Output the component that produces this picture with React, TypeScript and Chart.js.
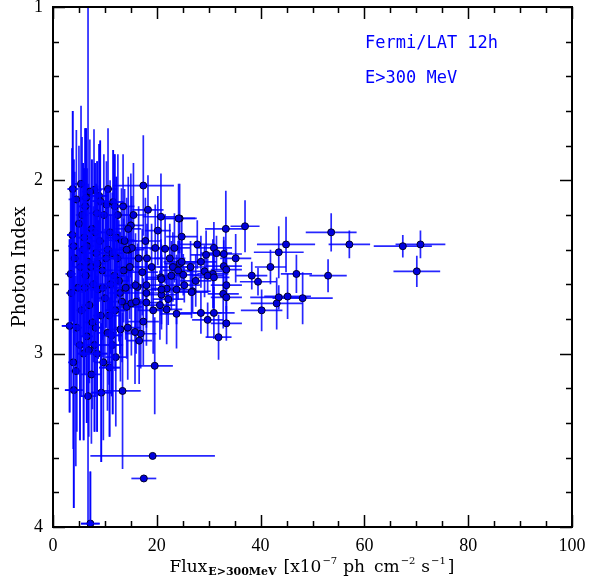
import { useEffect, useRef } from "react";
import { Chart, registerables } from "chart.js";
Chart.register(...registerables);

// Flux (x10^-7 ph cm^-2 s^-1), its error, photon index, its error
const flux = [
  53.6, 57.1, 67.4, 70.8, 70.1, 53.0, 48.1, 37.0, 44.9, 43.5,
  41.9, 38.3, 39.5, 46.9, 43.5, 43.1, 45.2, 40.2, 33.3, 27.8,
  24.8, 24.4, 31.0, 29.5, 32.9, 35.2, 31.5, 32.9, 33.4, 29.2,
  30.8, 29.8, 31.0, 33.4, 25.1, 25.3, 26.9, 32.8, 33.4, 28.5,
  31.0, 29.8, 33.4, 31.9, 24.4, 17.4, 18.3, 20.8, 24.2, 20.2,
  23.4, 21.6, 19.7, 18.1, 24.8, 23.1, 24.1, 20.8, 18.0, 21.9,
  23.8, 26.7, 20.9, 22.2, 18.0, 20.6, 21.9, 23.8, 17.4, 16.9,
  19.6, 19.2, 17.5, 14.6, 15.0, 13.2, 15.2, 16.3, 18.0, 14.2,
  16.6, 20.9, 20.9, 7.9, 8.9, 4.5, 11.6, 10.3, 8.5, 7.1,
  3.7, 3.4, 3.2, 3.9, 4.0, 7.4, 8.5, 6.75, 9.3, 13.4,
  7.2, 8.2, 11.3, 13.0, 15.8, 15.9, 15.1, 5.0, 5.8, 6.3,
  4.8, 5.5, 6.0, 6.8, 7.5, 7.8, 8.3, 9.0, 9.5, 10.0,
  10.6, 11.0, 11.8, 12.4, 12.9, 13.6, 14.2, 9.2, 6.5, 4.2,
  5.2, 7.0, 8.7, 10.8, 12.0, 13.8, 14.8, 9.8, 6.2, 12.5,
  11.5, 16.5, 17.2, 19.0, 15.5, 22.5, 26.5, 27.5, 28.5,
  3.5, 4.0, 4.6, 5.3, 5.6, 6.1, 6.6, 7.3, 7.6, 8.1,
  8.6, 9.1, 9.6, 10.2, 10.5, 11.1, 11.4, 12.2, 12.7, 13.3,
  14.0, 14.5, 4.4, 5.9, 6.9, 8.0, 9.7, 10.9, 12.1, 3.8,
  5.4, 6.4, 10.6, 11.9, 13.5, 14.4, 16.0, 17.8, 19.3, 22.8,
];
const fluxErr = [
  4.9, 4.0, 5.6, 4.8, 4.5, 3.6, 5.8, 2.8, 5.6, 4.8,
  3.0, 3.0, 3.5, 3.0, 5.5, 5.0, 4.5, 4.0, 4.0, 3.5,
  3.0, 3.0, 3.5, 3.0, 3.5, 3.0, 3.0, 3.5, 3.0, 3.5,
  3.0, 3.0, 3.0, 3.0, 3.0, 3.0, 3.5, 3.0, 3.0, 4.0,
  4.0, 3.0, 3.0, 2.5, 3.0, 5.9, 3.0, 3.5, 3.5, 2.5,
  3.0, 3.0, 2.5, 3.0, 3.5, 3.0, 3.0, 3.0, 3.5, 3.0,
  3.0, 3.0, 3.0, 3.0, 3.0, 3.0, 3.0, 3.0, 3.0, 3.0,
  3.5, 12.0, 2.4, 3.0, 2.5, 2.5, 2.5, 2.5, 3.0, 3.0,
  2.5, 3.0, 2.5, 1.5, 1.5, 1.5, 2.0, 2.0, 1.5, 1.5,
  1.0, 1.0, 1.5, 1.0, 1.7, 2.0, 2.0, 1.5, 2.0, 3.5,
  1.8, 1.5, 2.0, 2.0, 2.0, 2.0, 2.0, 1.0, 1.2, 1.2,
  1.0, 1.0, 1.5, 1.2, 1.5, 1.5, 1.5, 1.5, 2.0, 1.5,
  2.0, 2.0, 2.0, 2.0, 2.0, 2.0, 2.5, 1.5, 1.2, 1.0,
  1.0, 1.5, 1.5, 2.0, 2.0, 2.5, 2.5, 1.5, 1.2, 2.0,
  2.0, 2.5, 3.0, 3.0, 2.5, 3.0, 3.0, 3.0, 3.0,
  1.0, 1.0, 1.0, 1.2, 1.2, 1.2, 1.3, 1.5, 1.5, 1.5,
  1.5, 1.5, 1.8, 1.8, 1.8, 2.0, 2.0, 2.0, 2.0, 2.0,
  2.5, 2.5, 1.0, 1.2, 1.5, 1.5, 1.8, 2.0, 2.0, 1.0,
  1.2, 1.2, 1.8, 2.0, 2.2, 2.5, 2.5, 3.0, 3.0, 3.0,
];
const photonIndex = [
  2.30, 2.37, 2.38, 2.37, 2.525, 2.55, 2.68, 2.265, 2.37, 2.415,
  2.50, 2.55, 2.585, 2.54, 2.675, 2.71, 2.67, 2.75, 2.28, 2.37,
  2.325, 2.22, 2.39, 2.43, 2.425, 2.45, 2.42, 2.495, 2.515, 2.525,
  2.54, 2.55, 2.56, 2.605, 2.545, 2.605, 2.64, 2.655, 2.675, 2.765,
  2.765, 2.805, 2.825, 2.905, 2.48, 2.03, 2.17, 2.21, 2.22, 2.29,
  2.39, 2.395, 2.39, 2.45, 2.47, 2.50, 2.52, 2.56, 2.605, 2.625,
  2.63, 2.645, 2.66, 2.685, 2.705, 2.72, 2.745, 2.77, 2.815, 2.885,
  3.07, 3.59, 3.72, 2.40, 2.26, 2.345, 2.39, 2.615, 2.65, 2.73,
  2.925, 2.57, 2.63, 2.055, 2.09, 2.11, 2.125, 2.14, 2.19, 2.065,
  2.315, 2.54, 2.84, 3.05, 3.21, 3.12, 3.00, 3.245, 3.225, 3.215,
  3.98, 2.85, 2.895, 2.86, 2.875, 2.605, 2.71, 2.25, 2.40, 2.55,
  2.62, 2.75, 2.33, 2.47, 2.28, 2.60, 2.42, 2.35, 2.52, 2.68,
  2.40, 2.30, 2.55, 2.45, 2.65, 2.52, 2.40, 2.78, 2.90, 2.45,
  2.95, 2.72, 2.63, 2.78, 2.75, 2.35, 2.50, 2.20, 2.15, 2.20,
  2.95, 2.45, 2.53, 2.50, 2.20, 2.45, 2.50, 2.58, 2.47,
  2.65, 2.38, 2.85, 2.50, 2.20, 2.62, 2.38, 2.50, 2.82, 2.30,
  2.48, 2.12, 2.62, 2.45, 2.88, 2.60, 2.42, 2.33, 2.58, 2.70,
  2.62, 2.28, 3.10, 3.00, 2.98, 2.95, 3.05, 3.08, 3.02, 2.05,
  2.02, 2.10, 2.05, 2.15, 2.15, 2.85, 2.70, 2.35, 2.75, 2.55,
];
const indexErr = [
  0.11, 0.08, 0.065, 0.08, 0.09, 0.095, 0.15, 0.15, 0.16, 0.15,
  0.10, 0.08, 0.08, 0.11, 0.07, 0.15, 0.13, 0.12, 0.22, 0.14,
  0.12, 0.20, 0.15, 0.14, 0.10, 0.14, 0.10, 0.15, 0.12, 0.15,
  0.20, 0.10, 0.18, 0.15, 0.12, 0.10, 0.12, 0.20, 0.15, 0.12,
  0.15, 0.10, 0.10, 0.13, 0.13, 0.29, 0.20, 0.25, 0.20, 0.20,
  0.20, 0.20, 0.25, 0.20, 0.15, 0.20, 0.17, 0.22, 0.20, 0.15,
  0.20, 0.15, 0.20, 0.15, 0.25, 0.20, 0.20, 0.20, 0.25, 0.20,
  0.28, 0.0, 0.0, 0.25, 0.30, 0.30, 0.30, 0.25, 0.20, 0.30,
  0.25, 0.20, 0.20, 0.35, 0.30, 0.40, 0.30, 0.25, 0.30, 0.30,
  0.50, 0.50, 0.50, 0.50, 0.68, 0.40, 0.45, 2.50, 0.40, 0.45,
  0.30, 0.40, 0.35, 0.30, 0.30, 0.30, 0.30, 0.45, 0.50, 0.45,
  0.50, 0.50, 0.40, 0.45, 0.40, 0.45, 0.40, 0.35, 0.40, 0.40,
  0.35, 0.30, 0.35, 0.30, 0.35, 0.30, 0.30, 0.45, 0.50, 0.50,
  0.55, 0.45, 0.40, 0.40, 0.35, 0.30, 0.30, 0.35, 0.45, 0.35,
  0.40, 0.30, 0.25, 0.25, 0.30, 0.20, 0.15, 0.15, 0.15,
  0.55, 0.50, 0.60, 0.50, 0.45, 0.50, 0.45, 0.45, 0.50, 0.40,
  0.45, 0.35, 0.40, 0.40, 0.45, 0.40, 0.35, 0.35, 0.35, 0.35,
  0.30, 0.30, 0.55, 0.50, 0.50, 0.50, 0.45, 0.40, 0.40, 0.45,
  0.45, 0.40, 0.35, 0.30, 0.30, 0.30, 0.30, 0.25, 0.25, 0.20,
];

const xTickValues = [0, 20, 40, 60, 80, 100];
const yTickValues = [1, 2, 3, 4];
const annotationLines = ["Fermi/LAT 12h", "E>300 MeV"];
const denseLimit = 13;

function drawBars(chart: any, filter: (i: number) => boolean) {
  const { ctx, chartArea, scales } = chart;
  const x = scales.x, y = scales.y;
  ctx.save();
  ctx.beginPath();
  ctx.rect(chartArea.left, chartArea.top, chartArea.right - chartArea.left, chartArea.bottom - chartArea.top);
  ctx.clip();
  ctx.strokeStyle = "rgba(0,0,255,0.85)";
  ctx.lineWidth = 1.7;
  for (let i = 0; i < flux.length; i++) {
    if (!filter(i)) continue;
    const px = x.getPixelForValue(flux[i]);
    const py = y.getPixelForValue(photonIndex[i]);
    ctx.beginPath();
    ctx.moveTo(x.getPixelForValue(flux[i] - fluxErr[i]), py);
    ctx.lineTo(x.getPixelForValue(flux[i] + fluxErr[i]), py);
    if (indexErr[i] > 0) {
      ctx.moveTo(px, y.getPixelForValue(photonIndex[i] - indexErr[i]));
      ctx.lineTo(px, y.getPixelForValue(photonIndex[i] + indexErr[i]));
    }
    ctx.stroke();
  }
  ctx.restore();
}

const errorBars = {
  id: "errorBars",
  beforeDatasetsDraw(chart: any) {
    drawBars(chart, () => true);
  },
  afterDatasetsDraw(chart: any) {
    // in the crowded low-flux region the bars of later sources lie over the markers
    drawBars(chart, (i) => flux[i] < denseLimit && i % 2 === 0);
  },
};

function drawPieces(ctx: any, pieces: { t: string; f: string; dy: number; gap: number }[], cx: number, baseY: number) {
  let total = 0;
  const widths = pieces.map((p) => { ctx.font = p.f; const w = ctx.measureText(p.t).width; total += w + p.gap; return w; });
  let xPos = cx - total / 2;
  pieces.forEach((p, i) => {
    ctx.font = p.f;
    ctx.fillText(p.t, xPos, baseY + p.dy);
    xPos += widths[i] + p.gap;
  });
}

const frameAndText = {
  id: "frameAndText",
  afterDraw(chart: any) {
    const { ctx, chartArea, scales } = chart;
    const x = scales.x, y = scales.y;
    const { left, right, top, bottom } = chartArea;
    ctx.save();
    ctx.strokeStyle = "#000";
    ctx.lineWidth = 1.5;
    ctx.beginPath();
    for (let v = 0; v <= 100; v += 5) {
      const px = Math.round(x.getPixelForValue(v)) + 0.5;
      const len = v % 20 === 0 ? 12 : 6;
      ctx.moveTo(px, bottom); ctx.lineTo(px, bottom - len);
      ctx.moveTo(px, top); ctx.lineTo(px, top + len);
    }
    for (let k = 0; k <= 15; k++) {
      const v = 1 + k * 0.2;
      const py = Math.round(y.getPixelForValue(v)) + 0.5;
      const len = k % 5 === 0 ? 12 : 6;
      ctx.moveTo(left, py); ctx.lineTo(left + len, py);
      ctx.moveTo(right, py); ctx.lineTo(right - len, py);
    }
    ctx.stroke();
    ctx.lineWidth = 2;
    ctx.strokeRect(left, top, right - left, bottom - top);

    // x title
    ctx.fillStyle = "#000";
    ctx.textBaseline = "alphabetic";
    ctx.textAlign = "left";
    const main = "17px 'DejaVu Serif'";
    const sup = "10px 'DejaVu Serif'";
    drawPieces(ctx, [
      { t: "Flux", f: main, dy: 0, gap: 1 },
      { t: "E>300MeV", f: "bold 11px 'DejaVu Serif'", dy: 3, gap: 7 },
      { t: "[x10", f: main, dy: 0, gap: 1 },
      { t: "−7", f: sup, dy: -8, gap: 6 },
      { t: "ph", f: main, dy: 0, gap: 9 },
      { t: "cm", f: main, dy: 0, gap: 1 },
      { t: "−2", f: sup, dy: -8, gap: 6 },
      { t: "s", f: main, dy: 0, gap: 1 },
      { t: "−1", f: sup, dy: -8, gap: 2 },
      { t: "]", f: main, dy: 0, gap: 0 },
    ], 312, 572);

    // y title
    ctx.save();
    ctx.translate(25, 267);
    ctx.rotate(-Math.PI / 2);
    ctx.textAlign = "center";
    ctx.font = "18px 'DejaVu Serif'";
    ctx.fillText("Photon Index", 0, 0);
    ctx.restore();

    // annotation
    ctx.fillStyle = "#0000ff";
    ctx.font = "17px 'DejaVu Sans Mono'";
    ctx.fillText(annotationLines[0], 365, 48);
    ctx.fillText(annotationLines[1], 365, 83);
    ctx.restore();
  },
};

export default function App() {
  const ref = useRef<HTMLCanvasElement>(null);
  useEffect(() => {
    if (!ref.current) return;
    const points = flux.map((f, i) => ({ x: f, y: photonIndex[i] }));
    const chart = new Chart(ref.current, {
      type: "scatter",
      data: {
        datasets: [
          {
            data: points,
            pointRadius: 3.5,
            pointBackgroundColor: "#0000dd",
            pointBorderColor: "#00002a",
            pointBorderWidth: 1,
          },
        ],
      },
      options: {
        responsive: false,
        animation: false,
        events: [],
        layout: { padding: { left: 0, right: 17, top: 7, bottom: 0 }, autoPadding: false },
        plugins: { legend: { display: false }, tooltip: { enabled: false } },
        scales: {
          x: {
            type: "linear",
            min: 0,
            max: 100,
            grid: { display: false, drawTicks: false },
            border: { display: false },
            afterFit: (s: any) => { s.height = 55; s.paddingLeft = 0; s.paddingRight = 0; },
            afterBuildTicks: (s: any) => { s.ticks = xTickValues.map((v) => ({ value: v })); },
            ticks: { font: { family: "'Liberation Serif'", size: 18 }, color: "#000", padding: 8, maxRotation: 0 },
          },
          y: {
            type: "linear",
            min: 1,
            max: 4,
            reverse: true,
            grid: { display: false, drawTicks: false },
            border: { display: false },
            afterFit: (s: any) => { s.width = 53; s.paddingTop = 0; s.paddingBottom = 0; },
            afterBuildTicks: (s: any) => { s.ticks = yTickValues.map((v) => ({ value: v })); },
            ticks: { font: { family: "'Liberation Serif'", size: 18 }, color: "#000", padding: 10 },
          },
        },
      },
      plugins: [errorBars, frameAndText],
    });
    return () => chart.destroy();
  }, []);
  return (
    <div style={{ position: "fixed", left: 0, top: 0, width: 589, height: 582, background: "#fff" }}>
      <canvas ref={ref} width={589} height={582} style={{ display: "block" }} />
    </div>
  );
}
